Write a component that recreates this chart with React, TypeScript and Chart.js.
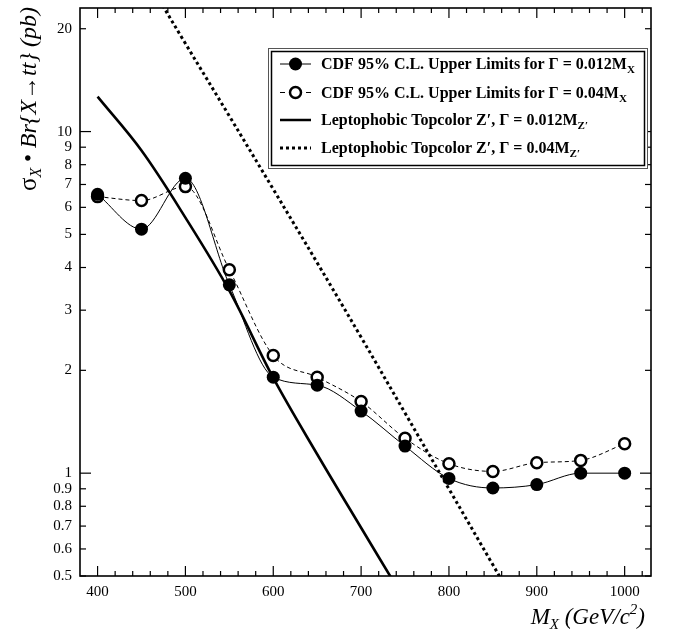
import { useEffect, useRef } from "react";
import { Chart, registerables } from "chart.js";

Chart.register(...registerables);

// ---- data ----
const massPoints = [400, 450, 500, 550, 600, 650, 700, 750, 800, 850, 900, 950, 1000];
const limitNarrow = [6.55, 5.18, 7.3, 3.56, 1.91, 1.81, 1.52, 1.2, 0.965, 0.905, 0.926, 1.0, 1.0];
const limitWide = [6.45, 6.28, 6.9, 3.94, 2.21, 1.91, 1.62, 1.265, 1.066, 1.012, 1.073, 1.09, 1.22];
const topcolorNarrowMass = [400, 450, 500, 550, 600, 650, 700, 740];
const topcolorNarrow = [12.65, 8.8, 5.6, 3.42, 1.9, 1.136, 0.692, 0.467];
const topcolorWideMass = [460, 500, 550, 600, 650, 700, 750, 800, 850, 860];
const topcolorWide = [26.9, 18.1, 11.1, 6.78, 4.13, 2.5, 1.5, 0.899, 0.539, 0.487];

const xTickValues = [400, 500, 600, 700, 800, 900, 1000];
const xMinorTickValues = [
  420, 440, 460, 480, 520, 540, 560, 580, 620, 640, 660, 680, 720, 740, 760, 780,
  820, 840, 860, 880, 920, 940, 960, 980, 1020,
];
const yTickValues = [0.5, 0.6, 0.7, 0.8, 0.9, 1, 2, 3, 4, 5, 6, 7, 8, 9, 10, 20];
const yMajorTickValues = [1, 10];

const legendLabels = [
  "CDF 95% C.L. Upper Limits for \u0393 = 0.012M",
  "CDF 95% C.L. Upper Limits for \u0393 = 0.04M",
  "Leptophobic Topcolor Z\u2032, \u0393 = 0.012M",
  "Leptophobic Topcolor Z\u2032, \u0393 = 0.04M",
];
const legendSubscripts = ["X", "X", "Z\u2032", "Z\u2032"];

const SERIF = "'Liberation Serif', 'DejaVu Serif', serif";

type Part = { text: string; font: string; dy?: number };

function measureParts(ctx: CanvasRenderingContext2D, parts: Part[]) {
  let w = 0;
  for (const p of parts) {
    ctx.font = p.font;
    w += ctx.measureText(p.text).width;
  }
  return w;
}
function drawParts(ctx: CanvasRenderingContext2D, x: number, y: number, parts: Part[]) {
  let cx = x;
  for (const p of parts) {
    ctx.font = p.font;
    ctx.fillText(p.text, cx, y + (p.dy || 0));
    cx += ctx.measureText(p.text).width;
  }
  return cx - x;
}

const decorPlugin = {
  id: "decor",
  afterDraw(chart: any) {
    const { ctx, chartArea: a, scales } = chart;
    const xs = scales.x;
    const ys = scales.y;
    ctx.save();
    ctx.strokeStyle = "#000";
    ctx.fillStyle = "#000";
    const seg = (x1: number, y1: number, x2: number, y2: number) => {
      ctx.beginPath();
      ctx.moveTo(x1, y1);
      ctx.lineTo(x2, y2);
      ctx.stroke();
    };
    ctx.lineWidth = 1.2;
    for (const v of xTickValues) {
      const px = xs.getPixelForValue(v);
      seg(px, a.bottom, px, a.bottom - 10);
      seg(px, a.top, px, a.top + 10);
    }
    for (const v of xMinorTickValues) {
      const px = xs.getPixelForValue(v);
      seg(px, a.bottom, px, a.bottom - 5);
      seg(px, a.top, px, a.top + 5);
    }
    for (const v of yTickValues) {
      const py = ys.getPixelForValue(v);
      const len = yMajorTickValues.includes(v) ? 11 : 6;
      seg(a.left, py, a.left + len, py);
      seg(a.right, py, a.right - len, py);
    }
    ctx.lineWidth = 1.6;
    ctx.strokeRect(a.left, a.top, a.right - a.left, a.bottom - a.top);

    // legend
    const lx = 268.5, ly = 48.5, lw = 379, lh = 120;
    ctx.fillStyle = "#fff";
    ctx.fillRect(lx, ly, lw, lh);
    ctx.fillStyle = "#000";
    ctx.lineWidth = 1;
    ctx.strokeStyle = "#555";
    ctx.strokeRect(lx, ly, lw, lh);
    ctx.strokeStyle = "#000";
    ctx.lineWidth = 1.5;
    ctx.strokeRect(lx + 3, ly + 3, lw - 6, lh - 6);
    const rows = [64, 92.5, 120, 148];
    const sx0 = 280, sx1 = 311, sxc = 295.5;
    // row 1
    ctx.lineWidth = 1;
    seg(sx0, rows[0], sx1, rows[0]);
    ctx.beginPath();
    ctx.arc(sxc, rows[0], 6.5, 0, Math.PI * 2);
    ctx.fill();
    // row 2
    seg(sx0, rows[1], sx0 + 5, rows[1]);
    seg(sx1 - 5, rows[1], sx1, rows[1]);
    ctx.beginPath();
    ctx.arc(sxc, rows[1], 5.5, 0, Math.PI * 2);
    ctx.fillStyle = "#fff";
    ctx.fill();
    ctx.lineWidth = 2.5;
    ctx.stroke();
    ctx.fillStyle = "#000";
    // row 3
    ctx.lineWidth = 2.5;
    seg(sx0, rows[2], sx1, rows[2]);
    // row 4
    ctx.lineWidth = 3;
    ctx.setLineDash([3, 3]);
    seg(sx0, rows[3], sx1, rows[3]);
    ctx.setLineDash([]);
    ctx.textBaseline = "alphabetic";
    ctx.textAlign = "left";
    for (let i = 0; i < 4; i++) {
      drawParts(ctx, 321, rows[i] + 5, [
        { text: legendLabels[i], font: `bold 16px ${SERIF}` },
        { text: legendSubscripts[i], font: `bold 11px ${SERIF}`, dy: 4 },
      ]);
    }

    // x title
    const xParts: Part[] = [
      { text: "M", font: `italic 23px ${SERIF}` },
      { text: "X", font: `italic 15px ${SERIF}`, dy: 5 },
      { text: " (GeV/c", font: `italic 23px ${SERIF}` },
      { text: "2", font: `italic 15px ${SERIF}`, dy: -10 },
      { text: ")", font: `italic 23px ${SERIF}` },
    ];
    const xw = measureParts(ctx, xParts);
    drawParts(ctx, 645 - xw, 624, xParts);

    // y title
    const yParts: Part[] = [
      { text: "\u03c3", font: `25px ${SERIF}` },
      { text: "X", font: `italic 16px ${SERIF}`, dy: 5 },
      { text: " \u2022 ", font: `23px ${SERIF}` },
      { text: "Br{X\u2192tt} (pb)", font: `italic 24px ${SERIF}` },
    ];
    const yw = measureParts(ctx, yParts);
    ctx.translate(36, 7 + yw);
    ctx.rotate(-Math.PI / 2);
    drawParts(ctx, 0, 0, yParts);
    ctx.restore();
  },
};

export default function App() {
  const ref = useRef<HTMLCanvasElement | null>(null);
  useEffect(() => {
    document.body.style.margin = "0";
    const canvas = ref.current;
    if (!canvas) return;
    const chart = new Chart(canvas, {
      type: "line",
      data: {
        datasets: [
          {
            label: legendLabels[0],
            data: massPoints.map((m, i) => ({ x: m, y: limitNarrow[i] })),
            borderColor: "#000",
            borderWidth: 1,
            pointRadius: 6.5,
            pointBorderWidth: 0,
            pointBackgroundColor: "#000",
            cubicInterpolationMode: "monotone",
            order: 0,
          },
          {
            label: legendLabels[1],
            data: massPoints.map((m, i) => ({ x: m, y: limitWide[i] })),
            borderColor: "#000",
            borderWidth: 1,
            borderDash: [4, 3],
            pointRadius: 5.5,
            pointBorderWidth: 2.5,
            pointBorderColor: "#000",
            pointBackgroundColor: "#fff",
            cubicInterpolationMode: "monotone",
            order: 1,
          },
          {
            label: legendLabels[2],
            data: topcolorNarrowMass.map((m, i) => ({ x: m, y: topcolorNarrow[i] })),
            borderColor: "#000",
            borderWidth: 2.6,
            pointRadius: 0,
            tension: 0.35,
            order: 2,
          },
          {
            label: legendLabels[3],
            data: topcolorWideMass.map((m, i) => ({ x: m, y: topcolorWide[i] })),
            borderColor: "#000",
            borderWidth: 3,
            borderDash: [3, 3],
            pointRadius: 0,
            tension: 0.35,
            order: 3,
          },
        ],
      },
      options: {
        animation: false,
        responsive: false,
        devicePixelRatio: 1,
        layout: { padding: { top: 6, right: 28, left: 0, bottom: 0 } },
        plugins: { legend: { display: false }, tooltip: { enabled: false } },
        scales: {
          x: {
            type: "linear",
            min: 380,
            max: 1030,
            afterBuildTicks: (s: any) => {
              s.ticks = xTickValues.map((v) => ({ value: v }));
            },
            afterFit: (s: any) => {
              s.height = 54;
              s.paddingLeft = 0;
              s.paddingRight = 0;
            },
            grid: { display: false, drawTicks: false },
            border: { display: false },
            ticks: {
              color: "#000",
              font: { family: SERIF, size: 15 },
              padding: 7,
              maxRotation: 0,
              autoSkip: false,
              callback: (v: any) => String(v),
            },
          },
          y: {
            type: "logarithmic",
            min: 0.5,
            max: 23,
            afterBuildTicks: (s: any) => {
              s.ticks = yTickValues.map((v) => ({ value: v }));
            },
            afterFit: (s: any) => {
              s.width = 80;
              s.paddingTop = 0;
              s.paddingBottom = 0;
            },
            grid: { display: false, drawTicks: false },
            border: { display: false },
            ticks: {
              color: "#000",
              font: { family: SERIF, size: 15 },
              padding: 8,
              autoSkip: false,
              callback: (v: any) => String(v),
            },
          },
        },
      },
      plugins: [decorPlugin],
    } as any);
    return () => chart.destroy();
  }, []);
  return (
    <div style={{ position: "relative", width: 679, height: 630 }}>
      <canvas ref={ref} width={679} height={630} style={{ display: "block" }} />
    </div>
  );
}
